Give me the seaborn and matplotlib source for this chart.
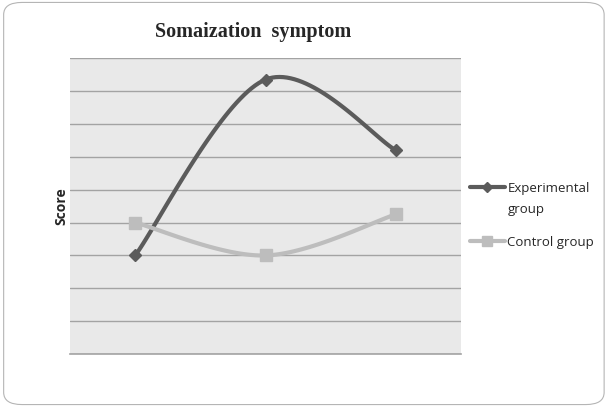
import matplotlib
matplotlib.use("Agg")
import matplotlib.pyplot as plt
import numpy as np
import pandas as pd
import seaborn as sns
from matplotlib.lines import Line2D
from matplotlib.patches import FancyBboxPatch

TIMEPOINTS = [0, 1, 2]
EXPERIMENTAL = [3.0, 8.35, 6.2]
CONTROL = [4.0, 3.0, 4.25]
SERIES_NAMES = ["Experimental\ngroup", "Control group"]

DARK = "#5b5b5b"
LIGHT = "#bdbdbd"
PANEL = "#e9e9e9"
GRID = "#a3a3a3"


def smooth(xs, ys, steps=40):
    # Catmull-Rom style curve through the points, like a spreadsheet "smoothed line"
    xs = np.asarray(xs, float)
    ys = np.asarray(ys, float)
    px = np.concatenate([[xs[0]], xs, [xs[-1]]])
    py = np.concatenate([[ys[0]], ys, [ys[-1]]])
    out_x, out_y = [], []
    for i in range(1, len(px) - 2):
        p0, p1, p2, p3 = [np.array([px[j], py[j]]) for j in (i - 1, i, i + 1, i + 2)]
        c1 = p1 + (p2 - p0) / 6
        c2 = p2 - (p3 - p1) / 6
        t = np.linspace(0, 1, steps)[:, None]
        pts = (1 - t) ** 3 * p1 + 3 * (1 - t) ** 2 * t * c1 + 3 * (1 - t) * t ** 2 * c2 + t ** 3 * p2
        out_x.extend(pts[:, 0])
        out_y.extend(pts[:, 1])
    return np.array(out_x), np.array(out_y)


sns.set_theme(style="white")
fig = plt.figure(figsize=(6.09, 4.07), dpi=100)
ax = fig.add_axes([0.115, 0.130, 0.642, 0.727])
ax.set_facecolor(PANEL)

frame = FancyBboxPatch((0.006, 0.006), 0.986, 0.988, boxstyle="round,pad=0,rounding_size=0.03",
                       transform=fig.transFigure, facecolor="none", edgecolor="#b5b5b5",
                       linewidth=0.8, zorder=-1)
fig.patches.append(frame)

styles = [(DARK, "D", 6), (LIGHT, "s", 8)]
for values, (color, marker, ms) in zip([EXPERIMENTAL, CONTROL], styles):
    cx, cy = smooth(TIMEPOINTS, values)
    sns.lineplot(x=cx, y=cy, color=color, linewidth=3, sort=False, ax=ax, zorder=3)
    ax.plot(TIMEPOINTS, values, linestyle="none", marker=marker, markersize=ms,
            color=color, zorder=4)

ax.set_xlim(-0.5, 2.5)
ax.set_ylim(0, 9)
ax.set_yticks(np.arange(0, 10, 1))
ax.set_xticks([])
ax.yaxis.grid(True, color=GRID, linewidth=1)
ax.tick_params(axis="y", left=False, labelleft=False)
for side in ["left", "right", "top"]:
    ax.spines[side].set_visible(False)
ax.spines["bottom"].set_color(GRID)
ax.spines["bottom"].set_linewidth(1.2)

ax.set_ylabel("Score", fontsize=10, fontweight="bold", family="Open Sans", labelpad=1)

fig.text(0.416, 0.921, "Somaization  symptom", ha="center", va="center",
         family="Liberation Serif", fontsize=14.5, fontweight="bold")

# legend drawn by hand so the marker lines up with the first text line
legend_y = [0.540, 0.408]
legend_ms = [5, 6.5]
for name, y, (color, marker, _), ms in zip(SERIES_NAMES, legend_y, styles, legend_ms):
    fig.add_artist(Line2D([0.772, 0.829], [y, y], transform=fig.transFigure, color=color,
                          linewidth=3))
    fig.add_artist(Line2D([0.800], [y], transform=fig.transFigure, color=color,
                          marker=marker, markersize=ms, linestyle="none"))
    fig.text(0.833, y + 0.012, name, ha="left", va="top", family="Open Sans", fontsize=9.5,
             linespacing=1.75)

fig.savefig("out.png", dpi=100, facecolor="white")
